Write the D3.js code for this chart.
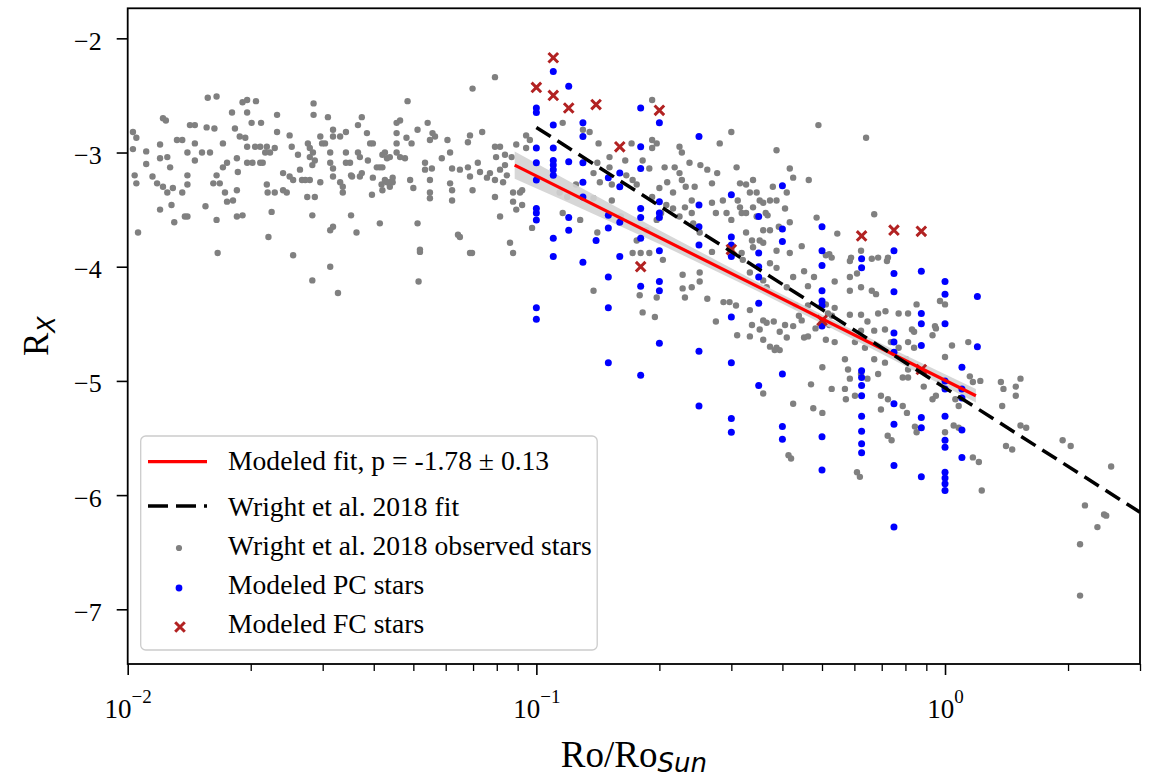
<!DOCTYPE html>
<html><head><meta charset="utf-8">
<script src="https://cdn.jsdelivr.net/npm/d3@7"></script>
<style>
body{margin:0;background:#fff}
svg{display:block}
text{font-family:"Liberation Serif","Times New Roman",serif;fill:#000}
</style>
</head><body>
<svg id="chart" width="1150" height="780"></svg>
<script>
// ---------------- DATA ----------------
const wrightStars = [
[0.0103,-2.82],[0.0105,-2.87],[0.0103,-2.97],[0.0104,-3.20],[0.0105,-3.27],[0.0106,-3.70],[0.0111,-2.99],[0.0111,-3.10],[0.0120,-2.93],[0.0122,-2.70],
[0.0124,-2.72],[0.0120,-3.05],[0.0125,-3.04],[0.0127,-3.13],[0.0115,-3.21],[0.0118,-3.27],[0.0122,-3.30],[0.0120,-3.50],[0.0125,-3.35],[0.0128,-3.46],
[0.0130,-3.61],[0.0132,-2.89],[0.0136,-2.89],[0.0129,-3.31],[0.0136,-3.35],[0.0138,-3.56],[0.0140,-3.56],[0.0140,-3.00],[0.0142,-2.76],[0.0146,-2.76],
[0.0146,-2.92],[0.0140,-3.20],[0.0140,-3.28],[0.0146,-3.07],[0.0152,-3.00],[0.0156,-2.78],[0.0163,-2.79],[0.0157,-2.52],[0.0165,-2.51],[0.0159,-3.00],
[0.0155,-3.47],[0.0165,-3.20],[0.0162,-3.27],[0.0168,-3.27],[0.0165,-3.59],[0.0166,-3.88],[0.0171,-2.92],[0.0175,-3.09],[0.0171,-3.13],[0.0173,-3.35],
[0.0175,-3.43],[0.0181,-3.42],[0.0180,-2.65],[0.0183,-2.79],[0.0185,-3.05],[0.0186,-3.17],[0.0185,-3.33],[0.0185,-3.56],[0.0191,-3.55],[0.0188,-2.86],
[0.0196,-2.54],[0.0191,-2.56],[0.0196,-2.65],[0.0206,-2.55],[0.0201,-2.74],[0.0212,-2.74],[0.0194,-2.87],[0.0196,-2.95],[0.0196,-3.09],[0.0202,-3.09],
[0.0211,-3.09],[0.0214,-3.09],[0.0205,-2.95],[0.0211,-2.95],[0.0219,-2.95],[0.0217,-3.00],[0.0223,-3.00],[0.0229,-2.96],[0.0232,-2.82],[0.0232,-2.67],
[0.0219,-3.28],[0.0220,-3.35],[0.0225,-3.52],[0.0221,-3.74],[0.0229,-3.35],[0.0240,-3.18],[0.0240,-3.33],[0.0245,-3.35],[0.0249,-2.85],[0.0252,-2.95],
[0.0254,-3.90],[0.0249,-3.21],[0.0254,-3.24],[0.0261,-3.02],[0.0264,-3.15],[0.0267,-3.24],[0.0272,-3.24],[0.0279,-3.24],[0.0275,-3.39],[0.0287,-3.39],
[0.0283,-3.55],[0.0276,-2.92],[0.0279,-2.96],[0.0279,-3.04],[0.0284,-3.00],[0.0287,-3.07],[0.0283,-3.11],[0.0285,-2.57],[0.0285,-2.67],[0.0296,-2.86],
[0.0299,-2.92],[0.0304,-2.92],[0.0296,-3.26],[0.0309,-2.69],[0.0313,-3.00],[0.0313,-3.09],[0.0318,-2.80],[0.0318,-2.86],[0.0318,-3.14],[0.0318,-3.21],
[0.0331,-2.86],[0.0331,-3.26],[0.0336,-3.30],[0.0336,-3.35],[0.0342,-2.82],[0.0342,-3.00],[0.0342,-3.09],[0.0350,-3.09],[0.0352,-3.20],[0.0354,-3.21],
[0.0366,-3.00],[0.0366,-2.76],[0.0374,-2.69],[0.0370,-3.04],[0.0374,-3.18],[0.0370,-3.21],[0.0385,-2.83],[0.0387,-3.07],[0.0392,-2.92],[0.0398,-2.92],
[0.0396,-3.37],[0.0398,-3.22],[0.0407,-3.13],[0.0414,-3.13],[0.0420,-3.13],[0.0426,-3.00],[0.0418,-3.28],[0.0420,-3.33],[0.0431,-3.26],[0.0438,-3.04],
[0.0438,-3.26],[0.0445,-3.22],[0.0455,-2.74],[0.0455,-2.83],[0.0455,-2.92],[0.0455,-3.00],[0.0318,-3.65],[0.0313,-3.68],[0.0352,-3.55],[0.0363,-3.70],
[0.0414,-3.62],[0.0283,-4.12],[0.0313,-4.00],[0.0327,-4.23],
[0.0792,-2.34],[0.0698,-2.44],[0.0484,-2.55],[0.0464,-2.72],[0.0542,-2.74],[0.0512,-2.80],[0.0557,-2.83],[0.0481,-2.87],[0.0495,-2.92],[0.0549,-2.89],
[0.0565,-2.86],[0.0606,-2.89],[0.0688,-2.85],[0.0737,-2.82],[0.0680,-2.91],[0.0792,-2.95],[0.0815,-2.95],[0.0893,-2.93],[0.0944,-2.85],[0.0964,-2.89],
[0.0420,-3.02],[0.0431,-3.05],[0.0464,-3.04],[0.0477,-3.05],[0.0534,-3.09],[0.0534,-3.15],[0.0555,-3.14],[0.0587,-3.05],[0.0615,-3.00],[0.0622,-3.14],
[0.0650,-3.15],[0.0680,-3.13],[0.0719,-3.09],[0.0688,-3.21],[0.0728,-3.17],[0.0770,-3.18],[0.0757,-3.22],[0.0797,-3.04],[0.0838,-3.02],[0.0870,-3.04],
[0.0838,-3.11],[0.0815,-3.15],[0.0847,-3.20],[0.0792,-3.24],[0.0829,-3.26],[0.0426,-3.24],[0.0438,-3.30],[0.0445,-3.26],[0.0491,-3.24],[0.0500,-3.31],
[0.0549,-3.24],[0.0549,-3.35],[0.0549,-3.40],[0.0615,-3.27],[0.0622,-3.33],[0.0622,-3.42],[0.0698,-3.33],[0.0792,-3.39],[0.0877,-3.35],[0.0877,-3.43],
[0.0912,-3.35],[0.0893,-3.50],[0.0923,-3.46],[0.0512,-3.62],[0.0643,-3.72],[0.0650,-3.74],[0.0519,-3.85],[0.0688,-3.88],[0.0862,-3.79],[0.0877,-3.88],
[0.0815,-3.56],[0.0976,-3.66],[0.0923,-3.33],[0.0944,-2.96],[0.116,-2.74],[0.128,-3.59],[0.116,-3.53],[0.119,-3.39],[0.114,-3.35],[0.125,-3.28],
[0.138,-3.40],[0.135,-2.82],[0.130,-2.80],[0.142,-2.92],[0.151,-3.04],[0.141,-3.09],[0.138,-3.18],[0.143,-3.26],[0.151,-3.13],[0.153,-3.28],
[0.165,-3.07],[0.171,-2.92],[0.166,-3.20],[0.172,-3.24],[0.176,-3.28],[0.182,-3.07],[0.189,-3.14],[0.192,-2.96],[0.197,-2.92],[0.192,-2.54],
[0.192,-2.89],[0.206,-3.13],[0.209,-3.26],[0.218,-3.13],[0.224,-2.95],[0.227,-3.00],[0.224,-3.18],[0.227,-3.24],[0.232,-3.30],[0.237,-3.09],
[0.240,-3.42],[0.244,-3.30],[0.240,-3.53],[0.231,-3.48],[0.252,-3.11],[0.262,-3.15],[0.269,-3.27],[0.277,-3.18],[0.281,-2.92],[0.300,-2.82],
[0.309,-3.13],[0.315,-3.27],[0.326,-3.28],[0.333,-3.35],[0.339,-3.24],[0.346,-3.35],[0.352,-3.42],[0.364,-3.53],[0.373,-3.42],[0.379,-3.30],
[0.387,-2.98],[0.311,-3.42],[0.315,-3.48],[0.318,-3.53],[0.300,-3.59],[0.326,-3.53],[0.339,-3.48],[0.346,-3.56],[0.326,-3.70],[0.318,-3.88],
[0.337,-3.77],[0.352,-3.77],[0.373,-3.68],[0.216,-3.35],[0.208,-3.46],[0.202,-3.53],[0.197,-3.59],[0.186,-3.68],[0.176,-3.77],[0.172,-3.88],
[0.180,-3.88],[0.141,-3.70],[0.161,-3.56],[0.153,-3.42],[0.192,-3.39],[0.200,-3.31],[0.216,-3.49],[0.224,-3.56],[0.242,-3.62],[0.251,-3.70],
[0.269,-3.44],[0.275,-3.53],[0.286,-3.42],[0.292,-3.53],
[0.0519,-3.87],[0.0696,-3.88],[0.0515,-4.13],[0.138,-4.21],[0.189,-3.88],[0.204,-3.94],[0.179,-4.25],[0.182,-4.40],[0.195,-4.44],[0.197,-4.27],
[0.228,-4.07],[0.228,-4.19],[0.240,-4.18],[0.231,-4.27],[0.251,-4.05],[0.251,-4.13],[0.262,-4.28],[0.275,-4.48],[0.287,-4.31],[0.297,-4.31],
[0.308,-4.34],[0.310,-4.60],[0.333,-4.61],[0.333,-4.38],[0.337,-4.51],[0.352,-4.55],[0.359,-4.64],[0.359,-4.47],[0.373,-4.70],[0.387,-4.71],
[0.359,-5.11],[0.269,-3.87],[0.300,-3.85],[0.320,-3.94],[0.333,-4.05],[0.359,-4.12],[0.366,-4.18],[0.339,-3.83],[0.373,-3.97],[0.387,-4.01],
[0.359,-3.79],[0.366,-4.49],[0.381,-4.48],[0.383,-4.73],[0.420,-5.68],[0.425,-5.20],[0.452,-4.04],[0.478,-4.09],[0.462,-4.17],[0.425,-4.09],
[0.410,-4.18],[0.431,-4.34],[0.439,-4.43],[0.425,-4.52],[0.410,-4.62],[0.452,-4.62],[0.482,-4.54],[0.511,-4.33],[0.537,-4.36],[0.521,-4.51],
[0.511,-4.64],[0.537,-4.66],[0.585,-4.21],[0.623,-4.18],[0.662,-4.21],[0.678,-4.24],[0.686,-4.41],[0.715,-4.39],[0.770,-4.41],[0.812,-4.41],
[0.623,-4.42],[0.646,-4.48],[0.623,-4.56],[0.671,-4.56],[0.713,-4.55],[0.602,-4.66],[0.637,-4.71],[0.671,-4.81],[0.569,-4.81],[0.579,-4.90],
[0.585,-4.98],[0.501,-4.88],[0.470,-5.03],[0.528,-5.07],[0.572,-5.16],[0.476,-5.24],[0.501,-5.28],[0.623,-4.94],[0.646,-4.98],[0.686,-4.94],
[0.713,-4.84],[0.737,-4.66],[0.770,-4.71],[0.812,-4.66],[0.803,-4.81],[0.812,-4.90],[0.788,-4.97],[0.812,-4.97],[0.852,-4.33],[0.840,-4.71],
[0.840,-4.57],[0.830,-4.55],[0.950,-4.54],[0.972,-4.30],[1.00,-4.33],[1.04,-4.69],[1.00,-4.79],[0.887,-5.05],[0.932,-5.16],[0.950,-5.13],
[1.00,-5.07],[1.06,-5.16],[1.08,-5.22],[1.15,-4.96],[1.17,-5.01],[1.22,-5.00],[1.14,-4.66],[1.37,-5.01],[1.39,-5.07],[1.49,-5.05],
[1.53,-4.98],[1.49,-5.13],[1.38,-5.22],[1.58,-5.41],[1.46,-5.60],[1.94,-5.52],[2.03,-5.57],[2.55,-5.75],[1.21,-5.71],[1.23,-5.96],
[0.852,-5.45],[1.00,-5.45],[1.08,-5.41],[0.740,-5.52],[0.619,-5.84],[0.807,-5.28],[0.788,-5.22],[0.725,-5.16],[0.697,-5.13],[0.697,-5.25],
[0.569,-5.07],[0.602,-5.13],[0.406,-4.51],[0.394,-4.73],[0.394,-4.57],[0.462,-4.61],[0.446,-4.47],[0.462,-4.34],[0.529,-4.43],[0.585,-4.42],
[0.517,-4.41],[0.521,-3.89],[0.511,-3.90],[0.589,-3.92],[0.609,-4.06],[0.585,-4.09],[0.537,-4.13],[0.686,-3.92],[0.725,-3.92],[0.945,-4.52],
[0.932,-4.60],
[1.53,-5.39],[1.41,-5.57],[1.17,-5.67],[2.20,-6.09],[2.45,-6.17],[2.48,-6.18],[2.36,-6.28],[2.14,-6.43],[2.14,-6.88],[0.609,-5.80],
[0.724,-5.48],[0.844,-5.40],[1.05,-5.39],[0.414,-5.65],
[0.490,-2.76],[0.641,-2.87],[0.417,-3.14],[0.425,-3.22],[0.464,-3.24],[0.410,-3.35],[0.387,-3.42],[0.359,-3.44],[0.406,-3.49],[0.368,-3.55],
[0.417,-3.61],[0.359,-3.68],[0.392,-3.65],[0.485,-3.57],[0.671,-3.54],[0.545,-3.71],[0.623,-3.86],[0.528,-3.92],[0.446,-3.82],[0.417,-3.88],
[0.387,-3.86],[0.585,-3.95],[0.662,-3.93],[0.721,-3.95]
];

const pcStars = [
[0.1,-2.61],[0.1,-2.65],[0.1,-2.96],[0.1,-3.09],[0.1,-3.24],[0.1,-3.49],[0.1,-3.53],[0.1,-3.59],[0.1,-4.36],[0.1,-4.46],
[0.11,-2.29],[0.11,-2.76],[0.11,-2.96],[0.11,-3.07],[0.11,-3.11],[0.11,-3.15],[0.11,-3.20],[0.11,-3.75],[0.11,-3.91],
[0.12,-2.42],[0.12,-3.08],[0.12,-3.57],[0.12,-3.68],
[0.13,-2.74],[0.13,-2.86],[0.13,-3.09],[0.13,-3.26],[0.13,-3.39],[0.13,-3.96],
[0.14,-3.77],
[0.15,-3.22],[0.15,-3.55],[0.15,-3.66],[0.15,-4.09],[0.15,-4.36],[0.15,-4.84],
[0.16,-3.18],[0.16,-3.30],[0.16,-3.61],[0.16,-3.91],
[0.18,-2.61],[0.18,-2.95],[0.18,-3.14],[0.18,-3.49],[0.18,-3.57],[0.18,-3.75],[0.18,-4.17],[0.18,-4.95],
[0.2,-2.74],[0.2,-3.43],[0.2,-3.53],[0.2,-3.57],[0.2,-3.86],[0.2,-4.13],[0.2,-4.21],[0.2,-4.67],
[0.25,-2.86],[0.25,-3.46],[0.25,-3.65],[0.25,-3.81],[0.25,-4.74],[0.25,-5.22],
[0.3,-3.37],[0.3,-3.74],[0.3,-3.81],[0.3,-3.91],[0.3,-4.44],[0.3,-4.84],[0.3,-5.33],[0.3,-5.45],
[0.35,-3.56],[0.35,-3.88],[0.35,-4.00],[0.35,-4.09],[0.35,-4.32],[0.35,-5.04],
[0.4,-3.29],[0.4,-3.67],[0.4,-3.78],[0.4,-4.94],[0.4,-5.40],[0.4,-5.51],
[0.5,-3.65],[0.5,-3.86],[0.5,-3.99],[0.5,-4.21],[0.5,-4.30],[0.5,-4.34],[0.5,-4.52],[0.5,-5.49],[0.5,-5.78],
[0.625,-3.93],[0.625,-4.01],[0.625,-4.91],[0.625,-4.97],[0.625,-5.04],[0.625,-5.13],[0.625,-5.31],[0.625,-5.44],[0.625,-5.55],[0.625,-5.63],
[0.75,-3.86],[0.75,-4.06],[0.75,-4.22],[0.75,-4.58],[0.75,-4.66],[0.75,-4.75],[0.75,-5.20],[0.75,-5.38],[0.75,-5.74],[0.75,-6.28],
[0.875,-4.04],[0.875,-4.41],[0.875,-4.50],[0.875,-4.69],[0.875,-5.32],[0.875,-5.41],[0.875,-5.84],
[1.0,-4.13],[1.0,-4.24],[1.0,-4.50],[1.0,-5.00],[1.0,-5.07],[1.0,-5.31],[1.0,-5.52],[1.0,-5.58],[1.0,-5.80],[1.0,-5.85],[1.0,-5.90],[1.0,-5.96],
[1.1,-4.88],[1.1,-5.07],[1.1,-5.15],[1.1,-5.43],[1.1,-5.67],
[1.2,-4.26],[1.2,-4.70]
];

const fcStars = [
[0.1,-2.43],[0.11,-2.17],[0.11,-2.50],[0.12,-2.61],[0.14,-2.58],[0.16,-2.95],[0.18,-4.00],[0.2,-2.63],
[0.3,-3.85],[0.5,-4.47],[0.625,-3.73],[0.75,-3.68],[0.875,-3.69],[0.875,-4.90]
];

const modelFit  = [[0.0885,-3.11],[1.19,-5.13]];
const wrightFit = [[0.1,-2.78],[3.0,-6.15]];
const bandRo   = [0.0885, 0.12, 0.2, 0.35, 0.6, 1.19];
const bandHigh = [-2.99, -3.25, -3.68, -4.14, -4.56, -5.07];
const bandLow  = [-3.23, -3.44, -3.80, -4.22, -4.64, -5.19];

const yTicks = [-2,-3,-4,-5,-6,-7];
const xMajorTicks = [0.01, 0.1, 1];
const xMajorExp = ["−2","−1","0"];
const legendLabels = ["Modeled fit, p = -1.78 ± 0.13","Wright et al. 2018 fit","Wright et al. 2018 observed stars","Modeled PC stars","Modeled FC stars"];

// ---------------- CHART ----------------
const svg = d3.select("#chart");
svg.append("rect").attr("width",1150).attr("height",780).attr("fill","#fff");
const m = {l:127.7, r:1140, t:8.3, b:664};
const x = d3.scaleLog().domain([0.01, 3.0]).range([m.l, m.r]);
const y = d3.scaleLinear().domain([-7.479, -1.737]).range([m.b, m.t]);

svg.append("defs").append("clipPath").attr("id","clip")
  .append("rect").attr("x",m.l).attr("y",m.t).attr("width",m.r-m.l).attr("height",m.b-m.t);
const plot = svg.append("g").attr("clip-path","url(#clip)");

// grey observed stars
plot.append("g").selectAll("circle").data(wrightStars).join("circle")
  .attr("cx",d=>x(d[0])).attr("cy",d=>y(d[1])).attr("r",3.2).attr("fill","#808080");

// confidence band
const band = bandRo.map((r,i)=>[r,bandLow[i],bandHigh[i]]);
plot.append("path").datum(band)
  .attr("d", d3.area().x(d=>x(d[0])).y0(d=>y(d[1])).y1(d=>y(d[2])))
  .attr("fill","#d3d3d3").attr("opacity",0.9);

// PC stars
plot.append("g").selectAll("circle").data(pcStars).join("circle")
  .attr("cx",d=>x(d[0])).attr("cy",d=>y(d[1])).attr("r",3.5).attr("fill","#0000ff");

// FC stars
const xs = 4.8;
const xPath = `M${-xs},${-xs}L${xs},${xs}M${-xs},${xs}L${xs},${-xs}`;
plot.append("g").selectAll("path").data(fcStars).join("path")
  .attr("transform",d=>`translate(${x(d[0])},${y(d[1])})`)
  .attr("d",xPath).attr("stroke","#b22222").attr("stroke-width",3).attr("fill","none");

// fits
const line = d3.line().x(d=>x(d[0])).y(d=>y(d[1]));
plot.append("path").datum(modelFit).attr("d",line)
  .attr("stroke","#ff0000").attr("stroke-width",3.2).attr("fill","none");
plot.append("path").datum(wrightFit).attr("d",line)
  .attr("stroke","#000").attr("stroke-width",3.5).attr("stroke-dasharray","17,8").attr("fill","none");

// frame
svg.append("rect").attr("x",m.l).attr("y",m.t).attr("width",m.r-m.l).attr("height",m.b-m.t)
  .attr("fill","none").attr("stroke","#000").attr("stroke-width",1.8);

// y axis
const yAxis = svg.append("g").attr("transform",`translate(${m.l},0)`)
  .call(d3.axisLeft(y).tickValues(yTicks).tickSize(11).tickPadding(15).tickFormat(d=>"−"+Math.abs(d)));
yAxis.select(".domain").remove();
yAxis.selectAll(".tick line").attr("stroke","#000").attr("stroke-width",1.6);
yAxis.selectAll(".tick text").attr("font-size",26).attr("font-family","Liberation Serif, serif").attr("dy","0.42em");

// x axis major + minor
const minor = x.ticks().filter(t => !xMajorTicks.some(v => Math.abs(v - t) < 1e-9));
const xMinor = svg.append("g").attr("transform",`translate(0,${m.b})`)
  .call(d3.axisBottom(x).tickValues(minor).tickSize(7).tickFormat(""));
xMinor.select(".domain").remove();
xMinor.selectAll(".tick line").attr("stroke","#000").attr("stroke-width",1.3);
const xMajor = svg.append("g").attr("transform",`translate(0,${m.b})`)
  .call(d3.axisBottom(x).tickValues(xMajorTicks).tickSize(11).tickFormat(""));
xMajor.select(".domain").remove();
xMajor.selectAll(".tick line").attr("stroke","#000").attr("stroke-width",1.6);
xMajor.selectAll(".tick").each(function(d,i){
  const t = d3.select(this).append("text").attr("y",54).attr("text-anchor","middle").attr("fill","#000");
  t.append("tspan").attr("font-size",27).text("10");
  t.append("tspan").attr("font-size",19).attr("dy",-15).text(xMajorExp[i]);
});

// axis labels
const xl = svg.append("text").attr("x",(m.l+m.r)/2).attr("y",767).attr("text-anchor","middle");
xl.append("tspan").attr("font-size",37).text("Ro/Ro");
xl.append("tspan").attr("font-size",26).attr("dy",5).attr("font-family","DejaVu Sans").attr("font-style","italic").text("Sun");

const yl = svg.append("text").attr("transform",`translate(48,${(m.t+m.b)/2}) rotate(-90)`).attr("text-anchor","middle");
yl.append("tspan").attr("font-size",35).text("R");
yl.append("tspan").attr("font-size",24).attr("dy",7).attr("font-family","DejaVu Sans").attr("font-style","italic").text("X");

// legend
const lg = svg.append("g");
lg.append("rect").attr("x",140.7).attr("y",436).attr("width",456.5).attr("height",214).attr("rx",5)
  .attr("fill","#fff").attr("fill-opacity",0.8).attr("stroke","#cccccc").attr("stroke-width",1.3);
const rowY = [461.7, 506, 548, 588, 627];
const baseY = [470, 515.7, 555, 594, 632.7];
lg.append("line").attr("x1",148).attr("x2",207).attr("y1",rowY[0]).attr("y2",rowY[0]).attr("stroke","#ff0000").attr("stroke-width",3.2);
lg.append("line").attr("x1",148).attr("x2",207).attr("y1",rowY[1]).attr("y2",rowY[1]).attr("stroke","#000").attr("stroke-width",3.5).attr("stroke-dasharray","20,8");
lg.append("circle").attr("cx",179).attr("cy",rowY[2]).attr("r",3.1).attr("fill","#808080");
lg.append("circle").attr("cx",179).attr("cy",rowY[3]).attr("r",3.4).attr("fill","#0000ff");
lg.append("path").attr("transform",`translate(180,${rowY[4]})`).attr("d",xPath).attr("stroke","#b22222").attr("stroke-width",3).attr("fill","none");
lg.selectAll("text.lab").data(legendLabels).join("text").attr("class","lab")
  .attr("x",228).attr("y",(d,i)=>baseY[i]).attr("font-size",27.6).text(d=>d);
</script>
</body></html>
